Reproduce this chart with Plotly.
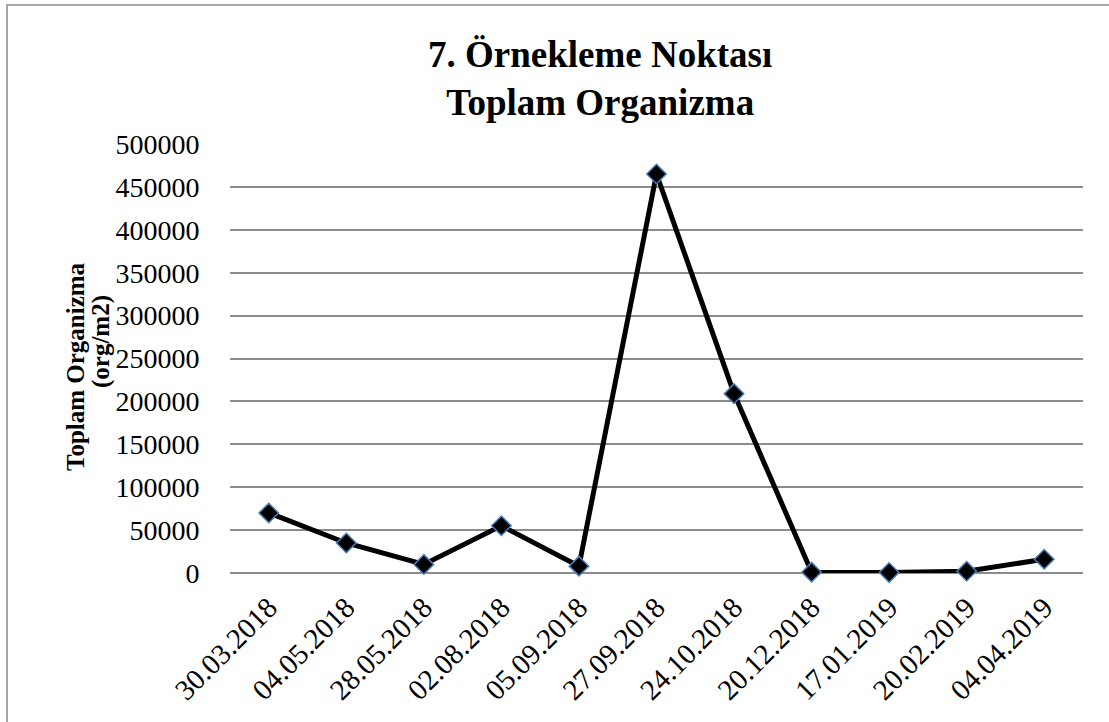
import plotly.graph_objects as go

dates = ["30.03.2018", "04.05.2018", "28.05.2018", "02.08.2018", "05.09.2018",
         "27.09.2018", "24.10.2018", "20.12.2018", "17.01.2019", "20.02.2019", "04.04.2019"]
values = [70000, 35000, 10000, 55000, 8000, 465000, 209000, 1000, 500, 2000, 16000]
y_ticks = [0, 50000, 100000, 150000, 200000, 250000, 300000, 350000, 400000, 450000, 500000]

serif = "Liberation Serif"

W, H = 1109, 722
L, R, T, B = 230, 26, 144, 149
PW, PH = W - L - R, H - T - B

fig = go.Figure()
fig.add_trace(go.Scatter(
    x=dates, y=values, mode="lines+markers",
    line=dict(color="black", width=5),
    marker=dict(symbol="diamond", size=15, color="black",
                line=dict(color="#4a7ebb", width=1.5)),
    cliponaxis=False,
))

fig.update_layout(
    width=W, height=H,
    paper_bgcolor="white", plot_bgcolor="white",
    margin=dict(l=L, r=R, t=T, b=B, autoexpand=False),
    showlegend=False,
    font=dict(family=serif, color="black"),
)
fig.add_annotation(
    text="<b>7. Örnekleme Noktası<br>Toplam Organizma</b>",
    xref="paper", yref="paper", x=(600 - L) / PW, y=(573 - 79) / PH,
    xanchor="center", yanchor="middle", showarrow=False,
    font=dict(family=serif, size=37, color="black"),
)
fig.update_xaxes(
    type="category", range=[-0.5, 10.5], tickangle=-45,
    tickfont=dict(family=serif, size=29, color="black"),
    showgrid=False, showline=False, ticks="outside", ticklen=5, tickcolor="rgba(0,0,0,0)",
)
fig.update_yaxes(
    range=[0, 500000], tickvals=y_ticks, ticktext=[str(v) for v in y_ticks],
    tickfont=dict(family=serif, size=28, color="black"),
    showgrid=True, gridcolor="#8c8c8c", gridwidth=1.5,
    zeroline=True, zerolinecolor="#8c8c8c", zerolinewidth=1.5,
    showline=False, ticks="outside", ticklen=24, tickcolor="rgba(0,0,0,0)",
)
fig.add_annotation(
    text="<b>Toplam Organizma</b>", textangle=-90,
    xref="paper", yref="paper", x=(75 - L) / PW, y=(573 - 367) / PH,
    xanchor="center", yanchor="middle", showarrow=False,
    font=dict(family=serif, size=25, color="black"),
)
fig.add_annotation(
    text="<b>(org/m2)</b>", textangle=-90,
    xref="paper", yref="paper", x=(101 - L) / PW, y=(573 - 342) / PH,
    xanchor="center", yanchor="middle", showarrow=False,
    font=dict(family=serif, size=25, color="black"),
)
fig.add_shape(type="rect", xref="paper", yref="paper",
              x0=(7 - L) / PW, x1=(W + 10 - L) / PW,
              y0=(573 - (H + 10)) / PH, y1=(573 - 5) / PH,
              line=dict(color="#8c8c8c", width=1.5), fillcolor="rgba(0,0,0,0)")

fig.write_html("out.html", config={"displayModeBar": False},
               post_script="document.body.style.margin='0';")
